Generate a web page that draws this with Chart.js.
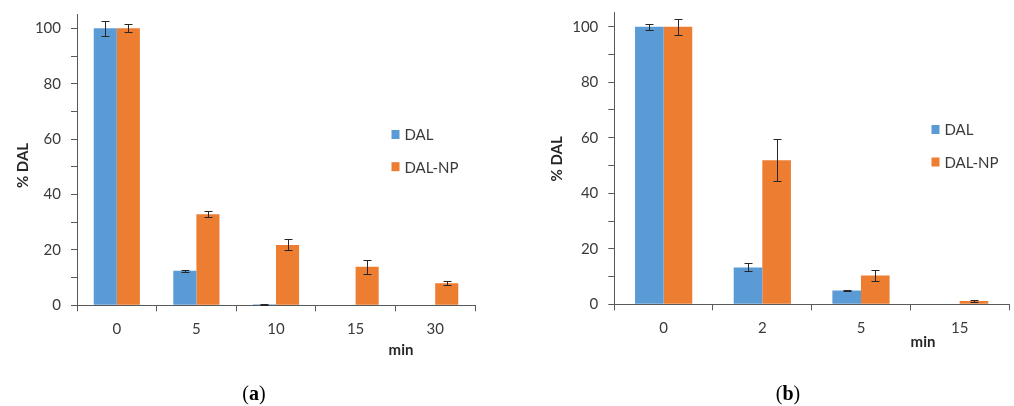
<!DOCTYPE html>
<html>
<head>
<meta charset="utf-8">
<script src="https://cdn.jsdelivr.net/npm/chart.js@4/dist/chart.umd.min.js"></script>
<style>
  html, body { margin: 0; padding: 0; background: #fff; }
  body { width: 1014px; height: 406px; position: relative; overflow: hidden; }
  canvas { position: absolute; top: 0; }
  #ca { left: 0; }
  #cb { left: 500px; }
  .cap { position: absolute; top: 381px; font-family: "Liberation Serif", "DejaVu Serif", serif; font-size: 20px; line-height: 24px; color: #000; transform: translateX(-50%); }
</style>
</head>
<body>
<canvas id="ca" width="490" height="406"></canvas>
<canvas id="cb" width="514" height="406"></canvas>
<div class="cap" style="left:254px">(<b>a</b>)</div>
<div class="cap" style="left:788px">(<b>b</b>)</div>
<script>
// ---- data ----
const seriesNames = ['DAL', 'DAL-NP'];
const categoriesA = ['0', '5', '10', '15', '30'];
const dalA = [100, 12.5, 0.4, 0, 0];
const dalErrA = [2.8, 0.4, 0.2, 0, 0];
const dalNpA = [100, 32.9, 21.8, 13.9, 8.0];
const dalNpErrA = [1.4, 1.0, 2.0, 2.5, 0.8];

const categoriesB = ['0', '2', '5', '15'];
const dalB = [100, 13.3, 5.0, 0];
const dalErrB = [1.1, 1.4, 0.2, 0];
const dalNpB = [100, 51.9, 10.4, 1.2];
const dalNpErrB = [2.9, 7.6, 2.1, 0.2];

const yTickLabels = [0, 20, 40, 60, 80, 100];
const yMax = 105;
const yMinorStep = 10;

// ---- styles ----
const BLUE = '#5B9BD5';
const ORANGE = '#ED7D31';
const AXIS = '#595959';
const TXT = '#3a3a3a';
const FONT = 'Lato, "Open Sans", sans-serif';

const errorBars = {
  id: 'errorBars',
  afterDatasetsDraw(chart) {
    const ctx = chart.ctx;
    const y = chart.scales.y;
    ctx.save();
    ctx.strokeStyle = '#262626';
    ctx.lineWidth = 1;
    chart.data.datasets.forEach((ds, di) => {
      const meta = chart.getDatasetMeta(di);
      ds.errors.forEach((e, i) => {
        const v = ds.data[i];
        if (!v && !e) return;
        const x = Math.round(meta.data[i].x) + 0.5;
        const yt = Math.round(y.getPixelForValue(v + e)) + 0.5;
        const yb = Math.round(y.getPixelForValue(v - e)) + 0.5;
        const cap = 4;
        ctx.beginPath();
        ctx.moveTo(x, yt); ctx.lineTo(x, yb);
        ctx.moveTo(x - cap, yt); ctx.lineTo(x + cap, yt);
        ctx.moveTo(x - cap, yb); ctx.lineTo(x + cap, yb);
        ctx.stroke();
      });
    });
    ctx.restore();
  }
};

const extras = {
  id: 'extras',
  afterDraw(chart, args, opts) {
    const ctx = chart.ctx;
    ctx.save();
    // legend
    ctx.font = '15px ' + FONT;
    ctx.textBaseline = 'middle';
    ctx.textAlign = 'left';
    chart.data.datasets.forEach((ds, i) => {
      const ly = opts.legendY[i];
      ctx.fillStyle = ds.backgroundColor;
      ctx.fillRect(opts.legendX, ly - 4.5, 8, 9);
      ctx.fillStyle = TXT;
      ctx.fillText(ds.label, opts.legendX + 13, ly + 1);
    });
    // x title
    ctx.font = 'bold 15px ' + FONT;
    ctx.fillStyle = '#262626';
    ctx.textAlign = 'center';
    ctx.fillText('min', opts.minX, opts.minY);
    // y title
    ctx.translate(opts.yTitleX, opts.yTitleY);
    ctx.rotate(-Math.PI / 2);
    ctx.fillText('% DAL', 0, 0);
    ctx.restore();
  }
};

function makeChart(id, cats, d1, e1, d2, e2, yWidth, pad, extraOpts) {
  const canvas = document.getElementById(id);
  return new Chart(canvas, {
    type: 'bar',
    data: {
      labels: cats,
      datasets: [
        { label: seriesNames[0], data: d1, errors: e1, backgroundColor: BLUE },
        { label: seriesNames[1], data: d2, errors: e2, backgroundColor: ORANGE }
      ]
    },
    options: {
      responsive: false,
      animation: false,
      devicePixelRatio: 1,
      categoryPercentage: 0.58,
      barPercentage: 1.0,
      layout: { padding: pad },
      plugins: { legend: { display: false }, tooltip: { enabled: false }, extras: extraOpts },
      scales: {
        x: {
          offset: true,
          grid: { display: true, offset: true, drawOnChartArea: false, drawTicks: true, tickLength: 6, color: AXIS },
          border: { display: true, color: AXIS, width: 1 },
          ticks: { color: TXT, font: { family: FONT, size: 15 }, padding: 9, maxRotation: 0 },
          afterFit(s) { s.height = 406 - pad.bottom - extraOpts.axisY; }
        },
        y: {
          min: 0, max: yMax,
          afterBuildTicks(s) {
            const t = [];
            for (let v = 0; v <= yTickLabels[yTickLabels.length - 1]; v += yMinorStep) t.push({ value: v });
            s.ticks = t;
          },
          grid: { display: true, drawOnChartArea: false, drawTicks: true, tickLength: 6, color: AXIS },
          border: { display: true, color: AXIS, width: 1 },
          ticks: {
            autoSkip: false, color: TXT, padding: 10,
            font: { family: FONT, size: 15 },
            callback: (v) => yTickLabels.includes(v) ? String(v) : ''
          },
          afterFit(s) { s.width = yWidth; s.paddingTop = 0; s.paddingBottom = 0; }
        }
      }
    },
    plugins: [errorBars, extras]
  });
}

makeChart('ca', categoriesA, dalA, dalErrA, dalNpA, dalNpErrA, 77,
  { left: 0, right: 15, top: 14.5, bottom: 0 },
  { axisY: 305.3, legendX: 391.5, legendY: [134.5, 166.7], minX: 401, minY: 350, yTitleX: 23.5, yTitleY: 165.5 });

makeChart('cb', categoriesB, dalB, dalErrB, dalNpB, dalNpErrB, 114.3,
  { left: 0, right: 5, top: 12.8, bottom: 0 },
  { axisY: 304.3, legendX: 431.5, legendY: [129.5, 162], minX: 423, minY: 341.7, yTitleX: 57.5, yTitleY: 158.8 });
</script>
</body>
</html>
